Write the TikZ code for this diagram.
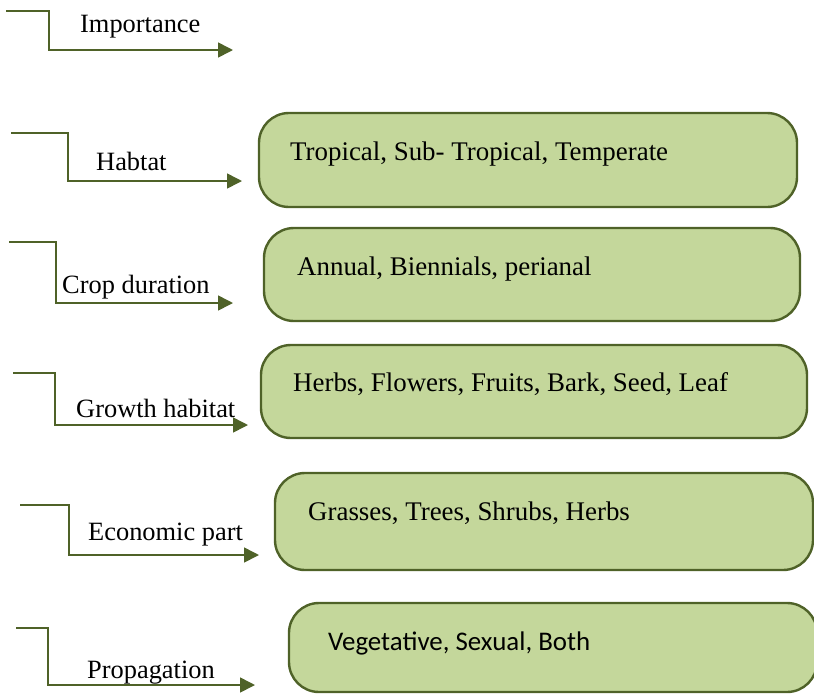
\documentclass[tikz,border=0pt]{standalone}
\usepackage{fontspec}
\setmainfont{Liberation Serif}
\newfontfamily\calibrifont{Carlito}
\usetikzlibrary{arrows.meta}
\definecolor{leafgreen}{HTML}{C4D79B}
\definecolor{olivedark}{HTML}{4F6228}
\tikzset{
  catbox/.style={draw=olivedark, fill=leafgreen, line width=2.4pt, rounded corners=30pt, inner sep=0pt},
  catlabel/.style={anchor=base west, inner sep=0pt, font=\fontsize{26.4}{30}\selectfont},
  boxtext/.style={anchor=base west, inner sep=0pt, font=\fontsize{26.9}{30}\selectfont},
  elbow/.style={-{Triangle[length=15pt,width=15pt]}, draw=olivedark, line width=1.6pt},
}
\begin{document}
\begin{tikzpicture}[x=1pt, y=-1pt]
  \clip (0,0) rectangle (814,697);

  % right-hand boxes
  \node[catbox, minimum width=538pt, minimum height=94pt] (habbox) at (528,160) {};
  \node[catbox, minimum width=536pt, minimum height=93pt] (durbox) at (532,274.5) {};
  \node[catbox, minimum width=546pt, minimum height=93pt] (grwbox) at (534,391.5) {};
  \node[catbox, minimum width=538pt, minimum height=97pt] (ecobox) at (544,521.5) {};
  \node[catbox, minimum width=528pt, minimum height=89pt] (prpbox) at (553,647.5) {};

  \node[boxtext] (habtxt) at (290,160) {Tropical, Sub- Tropical, Temperate};
  \node[boxtext] (durtxt) at (297,275) {Annual, Biennials, perianal};
  \node[boxtext] (grwtxt) at (293,391) {Herbs, Flowers, Fruits, Bark, Seed, Leaf};
  \node[boxtext] (ecotxt) at (308,520) {Grasses, Trees, Shrubs, Herbs};
  \node[boxtext, font=\fontsize{26.9}{30}\selectfont\calibrifont] (prptxt) at (328,650) {Vegetative, Sexual, Both};

  % elbow arrows on the left
  \coordinate (imp0) at (6,11);   \coordinate (imp1) at (233,50);
  \coordinate (hab0) at (11,133); \coordinate (hab1) at (242,181);
  \coordinate (dur0) at (9,242);  \coordinate (dur1) at (233,303);
  \coordinate (grw0) at (13,373); \coordinate (grw1) at (248,425);
  \coordinate (eco0) at (20,505); \coordinate (eco1) at (259,555);
  \coordinate (prp0) at (16,628); \coordinate (prp1) at (255,685);

  \draw[elbow] (imp0) -- +(43,0) |- (imp1);
  \draw[elbow] (hab0) -- +(57,0) |- (hab1);
  \draw[elbow] (dur0) -- +(47,0) |- (dur1);
  \draw[elbow] (grw0) -- +(42,0) |- (grw1);
  \draw[elbow] (eco0) -- +(49,0) |- (eco1);
  \draw[elbow] (prp0) -- +(32,0) |- (prp1);

  \node[catlabel] (implbl) at (80,32)  {Importance};
  \node[catlabel] (hablbl) at (96,170) {Habtat};
  \node[catlabel] (durlbl) at (62,293) {Crop duration};
  \node[catlabel] (grwlbl) at (76,417) {Growth habitat};
  \node[catlabel] (ecolbl) at (88,540) {Economic part};
  \node[catlabel] (prplbl) at (87,678) {Propagation};
\end{tikzpicture}
\end{document}
